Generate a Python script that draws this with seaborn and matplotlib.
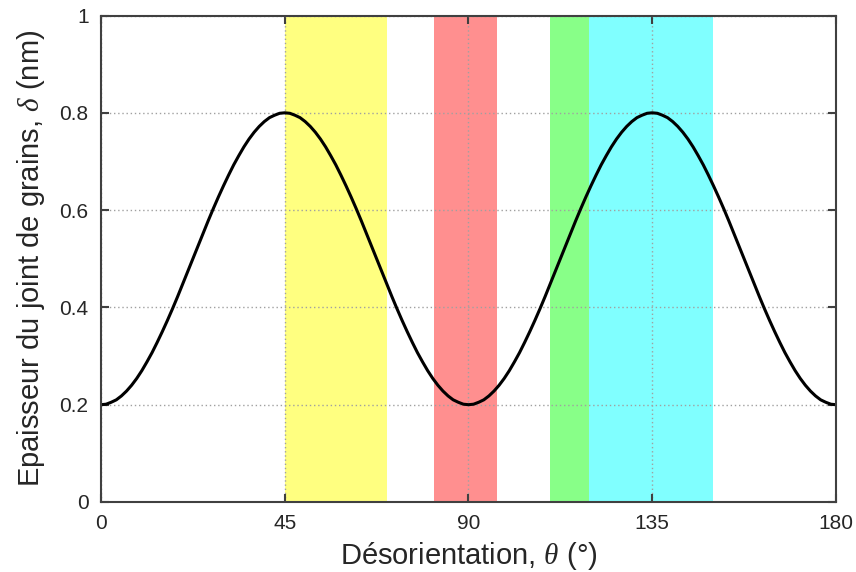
import numpy as np
import pandas as pd
import seaborn as sns
from matplotlib import pyplot as plt

# grain boundary thickness (nm), 0 -> 45 deg in 1.25 deg steps
rise = [0.200, 0.201, 0.205, 0.210, 0.218, 0.228, 0.240, 0.254, 0.270, 0.288,
        0.307, 0.328, 0.350, 0.373, 0.397, 0.422, 0.448, 0.474, 0.500, 0.526,
        0.552, 0.578, 0.603, 0.627, 0.650, 0.672, 0.693, 0.712, 0.730, 0.746,
        0.760, 0.772, 0.782, 0.790, 0.795, 0.799, 0.800]
# the curve is symmetric about 45 deg and repeats every 90 deg
one_period = rise + rise[::-1][1:]
delta = one_period + one_period[1:]
theta = [i * 1.25 for i in range(len(delta))]

# shaded ranges (deg) and colours
band_start = [45, 81.5, 110, 119.5]
band_end = [70, 97, 119.5, 150]
band_colors = ["#ffff80", "#ff8f8f", "#88ff88", "#80ffff"]

xticks = [0, 45, 90, 135, 180]
yticks = [0, 0.2, 0.4, 0.6, 0.8, 1]
ytick_labels = ["0", "0.2", "0.4", "0.6", "0.8", "1"]

sns.set_style("ticks")
plt.rcParams["font.family"] = ["Liberation Sans", "DejaVu Sans"]
plt.rcParams["mathtext.fontset"] = "custom"
plt.rcParams["mathtext.it"] = "Liberation Serif:italic"

fig = plt.figure(figsize=(8.56, 5.72), dpi=100)
ax = fig.add_axes([0.118, 0.1224, 0.8586, 0.8505])

for x0, x1, c in zip(band_start, band_end, band_colors):
    ax.axvspan(x0, x1, ymin=0, ymax=1, color=c, lw=0, zorder=1)

df = pd.DataFrame({"theta": theta, "delta": delta})
sns.lineplot(data=df, x="theta", y="delta", color="black", lw=2.2, ax=ax, zorder=3)

ax.set_xlim(0, 180)
ax.set_ylim(0, 1)
ax.set_xticks(xticks)
ax.set_xticklabels([str(t) for t in xticks])
ax.set_yticks(yticks)
ax.set_yticklabels(ytick_labels)
ax.grid(True, ls=(0, (1, 2)), color="#a0a0a0", lw=1, zorder=2)
ax.set_axisbelow(False)

ax.tick_params(direction="in", length=6, width=1.5, color="#404040",
               top=True, right=True, labelsize=15, pad=9)
for s in ax.spines.values():
    s.set_color("#404040")
    s.set_linewidth(1.5)
    s.set_zorder(4)

ax.set_xlabel(r"Désorientation, $\theta$ (°)", fontsize=21, labelpad=5)
ax.set_ylabel(r"Epaisseur du joint de grains, $\delta$ (nm)", fontsize=21, labelpad=9)

fig.savefig("out.png", dpi=100)
plt.close(fig)
